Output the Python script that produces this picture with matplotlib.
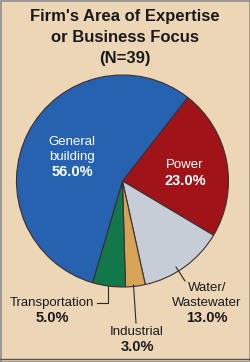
import matplotlib
matplotlib.use("Agg")
import matplotlib.pyplot as plt
from matplotlib import font_manager
from matplotlib.patches import Rectangle

# ---- data ----
categories = ["Power", "Water/\nWastewater", "Industrial", "Transportation", "General\nbuilding"]
values = [23.0, 13.0, 3.0, 5.0, 56.0]
colors = ["#a01419", "#c6cdd6", "#d7a457", "#12784a", "#2762b0"]
title_lines = ["Firm's Area of Expertise", "or Business Focus", "(N=39)"]

W, H = 250, 362
avail = {f.name for f in font_manager.fontManager.ttflist}
fam = "Liberation Sans Narrow" if "Liberation Sans Narrow" in avail else "Liberation Sans"
narrow = fam == "Liberation Sans Narrow"
plt.rcParams['font.family'] = [fam, 'DejaVu Sans']

fig = plt.figure(figsize=(W / 100, H / 100), dpi=100)
bg = "#edd6b6"
fig.patch.set_facecolor(bg)
ax = fig.add_axes([0, 0, 1, 1])
ax.set_facecolor(bg)

def Y(y):
    return H - y

cx, cy, r = 122.5, 181, 106
ax.pie(values, colors=colors, startangle=52, counterclock=False,
       center=(cx, Y(cy)), radius=r,
       wedgeprops=dict(edgecolor="#3b3030", linewidth=0.8))
ax.set_xlim(0, W)
ax.set_ylim(0, H)
ax.set_aspect('auto')
ax.axis('off')

tsize = 13.8 if narrow else 12
for i, line in enumerate(title_lines):
    ax.text(125, Y(17 + 20.5 * i), line, ha='center', va='center',
            fontsize=tsize, fontweight='bold', color='#1a1a1a')

lsize = 10.8 if narrow else 9.5
psize = 11.8 if narrow else 10.5
pct = {c: f"{v:.1f}%" for c, v in zip(categories, values)}

def label(x, y, name, color, lines_gap=15):
    parts = name.split("\n")
    for j, p in enumerate(parts):
        ax.text(x, Y(y + j * lines_gap), p, ha='center', va='center',
                fontsize=lsize, color=color)
    ax.text(x, Y(y + len(parts) * lines_gap), pct[name], ha='center', va='center',
            fontsize=psize, fontweight='bold', color=color)

label(72, 142, "General\nbuilding", "white")
label(185, 165, "Power", "white", 16)
label(207, 288, "Water/\nWastewater", "#1a1a1a")
label(52, 303, "Transportation", "#1a1a1a")
label(137, 332, "Industrial", "#1a1a1a")

lc = "#2a2a2a"
ax.plot([176, 185], [Y(267), Y(281)], color=lc, lw=0.8)
ax.plot([108, 108, 97], [Y(286), Y(303), Y(303)], color=lc, lw=0.8)
ax.plot([133.5, 136], [Y(285), Y(323)], color=lc, lw=0.8)

ax.add_patch(Rectangle((0.5, 0.5), W - 1, H - 1, fill=False,
                       edgecolor="#8c8c8c", lw=1.2))
ax.plot([0, W], [Y(359), Y(359)], color="#555555", lw=1)

fig.savefig("out.png", dpi=100, facecolor=bg)
